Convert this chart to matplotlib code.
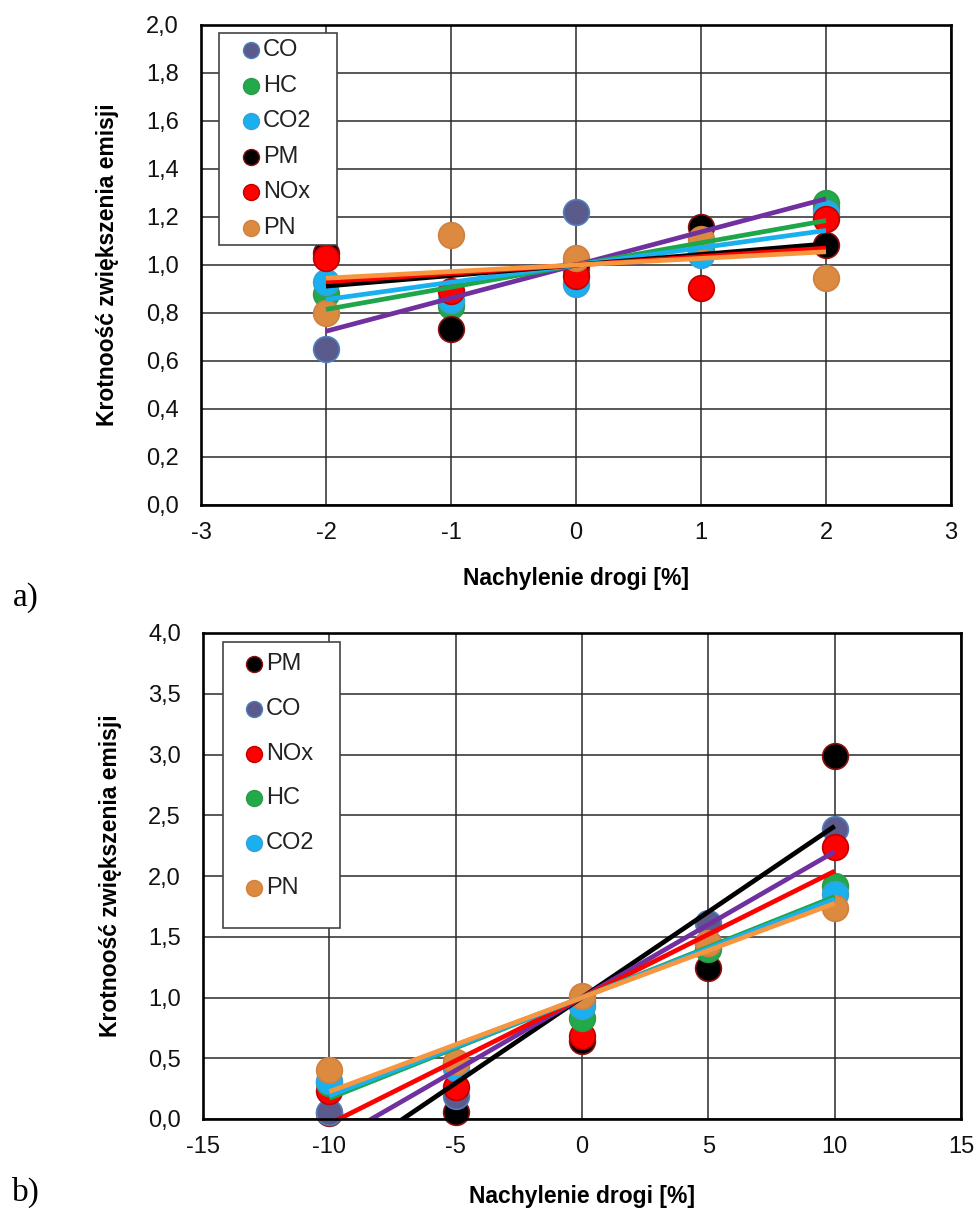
import matplotlib
matplotlib.use("Agg")
import matplotlib.pyplot as plt
from matplotlib.patches import Rectangle
import numpy as np

plt.rcParams['font.family'] = ['Liberation Sans', 'DejaVu Sans']

# ---------------- data: chart a) ----------------
x_a = [-2, -1, 0, 1, 2]
series_a = ['CO', 'HC', 'CO2', 'PM', 'NOx', 'PN']
co_a = [0.65, 0.84, 1.22, 1.05, 1.236]
hc_a = [0.88, 0.83, 0.98, 1.06, 1.257]
co2_a = [0.93, 0.855, 0.92, 1.04, 1.215]
pm_a = [1.05, 0.733, 1.00, 1.16, 1.083]
nox_a = [1.03, 0.89, 0.955, 0.903, 1.19]
pn_a = [0.80, 1.125, 1.03, 1.11, 0.944]
# linear trendline slopes (intercept fixed at 1)
trend_a = [0.138, 0.0925, 0.072, 0.044, 0.035, 0.0275]

# ---------------- data: chart b) ----------------
x_b = [-10, -5, 0, 5, 10]
series_b = ['PM', 'CO', 'NOx', 'HC', 'CO2', 'PN']
pm_b = [0.05, 0.06, 0.64, 1.245, 2.99]
co_b = [0.06, 0.19, 0.97, 1.615, 2.39]
nox_b = [0.23, 0.26, 0.685, 1.45, 2.24]
hc_b = [0.30, 0.45, 0.835, 1.40, 1.92]
co2_b = [0.31, 0.42, 0.93, 1.45, 1.85]
pn_b = [0.40, 0.47, 1.01, 1.45, 1.74]
trend_b = [0.141, 0.12, 0.104, 0.083, 0.081, 0.0775]

xticks_a = [-3, -2, -1, 0, 1, 2, 3]
yticks_a = [0.0, 0.2, 0.4, 0.6, 0.8, 1.0, 1.2, 1.4, 1.6, 1.8, 2.0]
xticks_b = [-15, -10, -5, 0, 5, 10, 15]
yticks_b = [0.0, 0.5, 1.0, 1.5, 2.0, 2.5, 3.0, 3.5, 4.0]

# ---------------- styles ----------------
marker_style = {
    'CO':  dict(fc='#5b5a8c', ec='#4f7fbf'),
    'HC':  dict(fc='#22a94a', ec='#2e9a4a'),
    'CO2': dict(fc='#18b0ee', ec='#3aa0d8'),
    'PM':  dict(fc='#000000', ec='#8b1010'),
    'NOx': dict(fc='#ff0000', ec='#c00000'),
    'PN':  dict(fc='#dc8a40', ec='#d08040'),
}
trend_color = {
    'CO': '#7030a0', 'HC': '#1fa64a', 'CO2': '#18b0ee',
    'PM': '#000000', 'NOx': '#ff0000', 'PN': '#f7963e',
}

W, H = 979, 1214
fig = plt.figure(figsize=(W / 100, H / 100), dpi=100)
fig.patch.set_facecolor('white')


def fx(px):
    return px / W


def fy(py):
    return 1 - py / H


ax_a = fig.add_axes([fx(201), fy(505), 750 / W, 480 / H])
ax_b = fig.add_axes([fx(203), fy(1119), 758 / W, 486 / H])

TICK_FS = 17
LAB_FS = 16.5
LEG_FS = 17


def draw(ax, x, names, values, slopes, xlim, ylim, xticks, yticks):
    for i, (n, v) in enumerate(zip(names, values)):
        st = marker_style[n]
        ax.plot(x, v, linestyle='none', marker='o', markersize=18.5,
                markerfacecolor=st['fc'], markeredgecolor=st['ec'],
                markeredgewidth=1.2, zorder=3 + i * 0.01, clip_on=False)
    xs = np.array([min(x), max(x)], dtype=float)
    for i, (n, s) in enumerate(zip(names, slopes)):
        ax.plot(xs, 1 + s * xs, color=trend_color[n], lw=3.4,
                solid_capstyle='butt', zorder=5 + i * 0.01)
    ax.set_xlim(*xlim)
    ax.set_ylim(*ylim)
    ax.set_xticks(xticks)
    ax.set_yticks(yticks)
    ax.set_xticklabels([str(t) for t in xticks])
    ax.set_yticklabels([('%.1f' % t).replace('.', ',') for t in yticks])
    ax.grid(True, color='#2a2a2a', lw=1.1, zorder=0)
    ax.set_axisbelow(True)
    for sp in ax.spines.values():
        sp.set_linewidth(1.9)
        sp.set_color('black')
        sp.set_zorder(6)
    ax.tick_params(axis='both', length=0, labelsize=TICK_FS, colors='#111111')
    ax.tick_params(axis='y', pad=16)
    ax.tick_params(axis='x', pad=12)
    ax.set_xlabel('Nachylenie drogi [%]', fontsize=LAB_FS, fontweight='bold',
                  va='center')
    ax.set_ylabel('Krotnoość zwiększenia emisji', fontsize=LAB_FS,
                  fontweight='bold', va='center')


def legend(names, box, marker_x, text_x, row_y):
    x0, y0, x1, y1 = box
    fig.patches.append(Rectangle((fx(x0), fy(y1)), (x1 - x0) / W, (y1 - y0) / H,
                                 transform=fig.transFigure, facecolor='white',
                                 edgecolor='#444444', lw=1.2, zorder=20))
    for n, yy in zip(names, row_y):
        st = marker_style[n]
        fig.lines.append(plt.Line2D([fx(marker_x)], [fy(yy)], transform=fig.transFigure,
                                    linestyle='none', marker='o', markersize=11.5,
                                    markerfacecolor=st['fc'], markeredgecolor=st['ec'],
                                    markeredgewidth=1.0, zorder=21))
        fig.text(fx(text_x), fy(yy), n, fontsize=LEG_FS, ha='left', va='center',
                 color='#222222', zorder=22)


draw(ax_a, x_a, series_a, [co_a, hc_a, co2_a, pm_a, nox_a, pn_a], trend_a,
     (-3, 3), (0, 2), xticks_a, yticks_a)
draw(ax_b, x_b, series_b, [pm_b, co_b, nox_b, hc_b, co2_b, pn_b], trend_b,
     (-15, 15), (0, 4), xticks_b, yticks_b)

legend(series_a, (219, 33, 337, 245), 251, 263,
       [50 + 35.6 * i for i in range(len(series_a))])
legend(series_b, (223, 642, 340, 928), 254, 266,
       [664 + 44.8 * i for i in range(len(series_b))])

ax_a.yaxis.set_label_coords((108 - 201) / 750, 0.5)
ax_a.xaxis.set_label_coords(0.5, (505 - 578) / 480)
ax_b.yaxis.set_label_coords((111 - 203) / 758, 0.5)
ax_b.xaxis.set_label_coords(0.5, (1119 - 1196) / 486)

fig.text(fx(26), fy(598), 'a)', family=['Liberation Serif', 'DejaVu Serif'],
         fontsize=24, ha='center', va='center')
fig.text(fx(26), fy(1192), 'b)', family=['Liberation Serif', 'DejaVu Serif'],
         fontsize=24, ha='center', va='center')

fig.savefig('out.png', dpi=100, facecolor='white')
